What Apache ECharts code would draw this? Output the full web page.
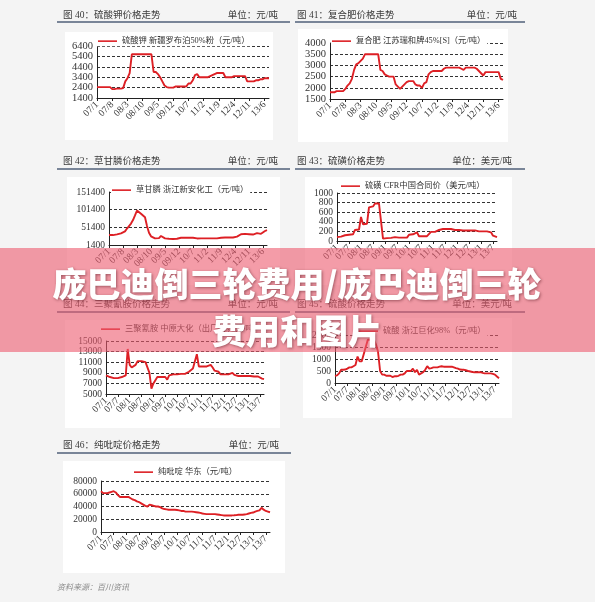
<!DOCTYPE html>
<html><head><meta charset="utf-8">
<script src="https://cdn.jsdelivr.net/npm/echarts@6/dist/echarts.min.js"></script>
<style>html,body{margin:0;padding:0;background:#f4f4f4}#c{width:595px;height:602px}</style>
</head><body><div id="c"></div>
<script>
// ---------- data ----------
const xTicksA = ['07/1','07/8','08/3','08/10','09/5','09/12','10/7','11/2','11/9','12/4','12/11','13/6'];
const xTicksB = ['07/1','07/7','08/1','08/7','09/1','09/7','10/1','10/7','11/1','11/7','12/1','12/7','13/1','13/7'];

const yTicks40 = [1400,2400,3400,4400,5400,6400];
const yTicks41 = [1500,2000,2500,3000,3500,4000];
const yTicks42 = [1400,51400,101400,151400];
const yTicks43 = [0,200,400,600,800,1000];
const yTicks44 = [5000,7000,9000,11000,13000,15000];
const yTicks45 = [0,500,1000,1500,2000];
const yTicks46 = [0,20000,40000,60000,80000];

// 硫酸钾 (monthly, 07/1 .. 13/8)
const potassiumSulfate = [
 2450,2450,2450,2450,2450,2450,2450,2250,2250,2300,2300,2300,
 2350,3000,3300,3800,5600,5600,5600,5600,5600,5600,5600,5600,
 5600,5600,3900,3900,3700,3400,3000,2600,2450,2400,2400,2400,
 2500,2500,2500,2500,2500,2500,2800,2800,3100,3600,3700,3400,
 3400,3400,3400,3400,3500,3600,3700,3800,3800,3800,3800,3400,
 3400,3400,3400,3500,3500,3500,3500,3500,3500,3000,3000,3000,
 3000,3100,3100,3200,3200,3300,3300,3300];
// 复合肥
const compoundFert = [
 1800,1800,1800,1850,1850,1850,1850,1950,2100,2200,2400,2800,
 3050,3100,3200,3300,3500,3500,3500,3500,3500,3500,3500,2800,
 2750,2600,2550,2500,2500,2500,2150,2050,1950,2050,2150,2250,
 2300,2300,2300,2150,2100,2100,2000,2200,2250,2600,2700,2750,
 2750,2750,2750,2750,2850,2900,2900,2900,2900,2900,2900,2900,
 2850,2800,2900,2900,2900,2900,2900,2850,2750,2650,2550,2700,
 2700,2700,2700,2700,2700,2700,2400,2350];
// 草甘膦
const glyphosate = [
 29500,29500,29500,31000,31400,34000,34200,36000,40000,48000,55000,62000,
 72000,85000,99000,95000,90000,87000,80000,55000,36000,26000,22000,20000,
 20000,21000,27000,23000,20000,19500,19000,18300,18300,18300,19000,21000,
 22000,22000,22000,22000,22000,22000,22000,19000,20000,20200,20200,20200,
 20200,20200,20200,20200,20200,20200,20200,21000,22000,22500,22500,22500,
 22500,22500,22500,22500,25000,28000,32000,34000,33000,32000,32000,31500,
 31000,31500,35000,36000,33000,38000,41000,43600];
// 硫磺 (monthly, 07/1 .. 13/9)
const sulfur = [
 80,80,90,120,120,120,130,140,140,230,230,240,
 500,350,350,360,700,700,720,780,780,780,760,50,
 55,60,60,65,80,80,70,70,70,70,70,70,
 130,130,140,150,180,100,100,100,100,100,100,190,
 190,190,210,230,250,250,250,250,250,250,240,230,
 230,230,230,220,220,220,220,220,220,220,210,200,
 200,200,200,200,190,180,110,80,80];
// 三聚氰胺
const melamine = [
 8500,8200,8200,8200,8000,8000,8000,8200,8200,8200,8500,13500,
 10500,10000,10300,10500,11200,11500,11200,11000,11000,10700,9000,6000,
 7000,7000,8200,8200,8200,8200,8200,7700,8500,8700,8700,8700,
 8700,8800,8800,8600,8800,9000,9200,9500,9800,10000,12500,10200,
 10200,10200,10200,10200,10200,10500,10000,9400,9400,9200,8700,8700,
 8700,8700,8700,8900,9000,8600,8500,8400,8400,8400,8400,8400,
 8400,8400,8400,8300,8300,8300,8000,7900,7800];
// 硫酸
const sulfuricAcid = [
 300,320,400,550,550,560,600,650,650,700,750,1100,
 900,900,1200,1500,1800,1800,1780,1800,1600,1300,500,350,
 350,300,300,300,250,280,280,300,350,350,400,500,
 500,500,600,450,550,350,400,450,550,700,600,620,
 650,650,650,680,700,680,680,680,680,680,650,620,
 600,560,550,550,530,500,480,460,450,450,450,450,
 420,400,400,400,400,380,350,270,200];
// 纯吡啶
const pyridine = [
 64000,61000,61000,61000,62000,63000,64000,62000,58000,55000,55000,55000,
 55000,55000,53000,51000,50000,48000,47000,45000,43000,41000,40000,43000,
 42000,41000,40000,40000,39000,37000,36000,35500,35000,35000,35000,35000,
 34500,34000,33000,33000,32000,32000,32000,32000,31500,31000,30500,30000,
 29000,28500,28000,28000,28000,28000,28000,27500,27000,26500,26000,26000,
 26000,26000,26000,26200,26500,27000,27000,27000,27500,28000,29000,30000,
 30500,32000,33000,34000,38000,35000,33000,32000,31000];

function monthLabels(n){const out=[];for(let i=0;i<n;i++){const y=7+Math.floor(i/12),m=i%12+1;out.push(String(y).padStart(2,'0')+'/'+m);}return out;}
const monthsA = monthLabels(potassiumSulfate.length);
const monthsB = monthLabels(sulfur.length);

// ---------- layout ----------
const SERIF = '"Liberation Serif","Noto Sans CJK SC"';
const RED = '#dd1f24';
const charts = [
 {name:'硫酸钾 新疆罗布泊50%粉（元/吨）', data:potassiumSulfate, cats:monthsA, ticks:xTicksA, y:yTicks40,
  grid:{left:97,top:46,width:172,height:52}, legend:{left:97,top:36}, yFont:10.5},
 {name:'复合肥 江苏瑞和牌45%[S]（元/吨）', data:compoundFert, cats:monthsA, ticks:xTicksA, y:yTicks41,
  grid:{left:330,top:43,width:173,height:56}, legend:{left:331,top:36}, yFont:10.5},
 {name:'草甘膦 浙江新安化工（元/吨）', data:glyphosate, cats:monthsA, ticks:xTicksA, y:yTicks42,
  grid:{left:109,top:192,width:158,height:53}, legend:{left:111,top:185}, yFont:9.5},
 {name:'硫磺 CFR中国合同价（美元/吨）', data:sulfur, cats:monthsB, ticks:xTicksB, y:yTicks43,
  grid:{left:337,top:193,width:160,height:48}, legend:{left:340,top:181}, yFont:9.5},
 {name:'三聚氰胺 中原大化（出厂价，元/吨）', data:melamine, cats:monthsB, ticks:xTicksB, y:yTicks44,
  grid:{left:106,top:341,width:158,height:53}, legend:{left:100,top:324}, yFont:9.5},
 {name:'硫酸 浙江巨化98%（元/吨）', data:sulfuricAcid, cats:monthsB, ticks:xTicksB, y:yTicks45,
  grid:{left:335,top:335,width:164,height:48}, legend:{left:358,top:326}, yFont:9.5},
 {name:'纯吡啶 华东（元/吨）', data:pyridine, cats:monthsB, ticks:xTicksB, y:yTicks46,
  grid:{left:101,top:481,width:169,height:51}, legend:{left:133,top:467}, yFont:9.5}
];

const headers = [
 {t:'图 40：硫酸钾价格走势', u:'单位：元/吨', x:63, ux:278, y:15, lx1:57, lx2:290, ly:22},
 {t:'图 41：复合肥价格走势', u:'单位：元/吨', x:297, ux:517, y:15, lx1:295, lx2:525, ly:22},
 {t:'图 42：草甘膦价格走势', u:'单位：元/吨', x:63, ux:278, y:161, lx1:57, lx2:290, ly:169},
 {t:'图 43：硫磺价格走势', u:'单位：美元/吨', x:297, ux:512, y:161, lx1:295, lx2:525, ly:169},
 {t:'图 44：三聚氰胺价格走势', u:'单位：元/吨', x:63, ux:278, y:304, lx1:57, lx2:290, ly:312},
 {t:'图 45：硫酸价格走势', u:'单位：美元/吨', x:297, ux:512, y:304, lx1:295, lx2:525, ly:312},
 {t:'图 46：纯吡啶价格走势', u:'单位：元/吨', x:63, ux:279, y:445, lx1:57, lx2:291, ly:453}
];
const boxes = [
 [65,32,208,108],[298,29,210,113],[67,177,213,108],[305,177,207,108],
 [65,320,215,108],[303,318,209,100],[63,461,222,112]
];

const elements = [];
boxes.forEach(b=>elements.push({type:'rect',z:-10,shape:{x:b[0],y:b[1],width:b[2],height:b[3]},style:{fill:'#ffffff'}}));
headers.forEach(h=>{
 elements.push({type:'text',z:5,style:{text:h.t,x:h.x,y:h.y,fill:'#3a3a3a',font:'9.5px '+SERIF,textAlign:'left',textVerticalAlign:'middle'}});
 elements.push({type:'text',z:5,style:{text:h.u,x:h.ux,y:h.y,fill:'#3a3a3a',font:'9.5px '+SERIF,textAlign:'right',textVerticalAlign:'middle'}});
 elements.push({type:'line',z:5,shape:{x1:h.lx1,y1:h.ly,x2:h.lx2,y2:h.ly},style:{stroke:'#51607a',lineWidth:1.3}});
});
elements.push({type:'text',z:5,style:{text:'资料来源：百川资讯',x:57,y:588,fill:'#8a8a8a',font:'italic 8px '+SERIF,textAlign:'left',textVerticalAlign:'middle'}});
elements.push({type:'rect',z:100,shape:{x:0,y:248,width:595,height:104},style:{fill:'rgba(236,90,110,0.6)'}});
const titleStyle = {fill:'#ffffff',font:'900 34px "Noto Sans CJK SC"',textAlign:'center',textVerticalAlign:'middle',
  textShadowColor:'rgba(60,0,10,0.45)',textShadowBlur:3,textShadowOffsetX:1,textShadowOffsetY:1};
elements.push({type:'text',z:101,style:Object.assign({text:'庞巴迪倒三轮费用/庞巴迪倒三轮',x:297,y:284},titleStyle)});
elements.push({type:'text',z:101,style:Object.assign({text:'费用和图片',x:297,y:331},titleStyle)});

const option = {
 animation:false,
 backgroundColor:'#f4f4f4',
 grid: charts.map(c=>Object.assign({containLabel:false},c.grid)),
 legend: charts.map(c=>({data:[c.name],left:c.legend.left,top:c.legend.top,icon:'rect',itemWidth:19,itemHeight:1.6,
   padding:[1,2,1,1],backgroundColor:'#ffffff',selectedMode:false,
   textStyle:{fontSize:8.3,color:'#333',fontFamily:SERIF}})),
 xAxis: charts.map((c,i)=>({type:'category',gridIndex:i,data:c.cats,boundaryGap:false,
   axisLine:{lineStyle:{color:'#222',width:1}},
   axisTick:{show:true,length:3,interval:(idx,v)=>c.ticks.includes(v),lineStyle:{color:'#222'}},
   axisLabel:{interval:0,formatter:v=>c.ticks.includes(v)?v:'',rotate:45,fontSize:9.5,color:'#333',fontFamily:SERIF,margin:5,
     hideOverlap:false},
   splitLine:{show:false}})),
 yAxis: charts.map((c,i)=>({type:'value',gridIndex:i,min:c.y[0],max:c.y[c.y.length-1],interval:c.y[1]-c.y[0],
   axisLine:{show:true,lineStyle:{color:'#222',width:1}},axisTick:{show:false},
   axisLabel:{fontSize:c.yFont,color:'#333',fontFamily:SERIF,margin:4,formatter:v=>String(v)},
   splitLine:{show:true,lineStyle:{color:'#333',type:[3,2],width:1}}})),
 series: charts.map((c,i)=>({name:c.name,type:'line',xAxisIndex:i,yAxisIndex:i,data:c.data,showSymbol:false,
   itemStyle:{color:RED},lineStyle:{color:RED,width:1.9}})),
 graphic:{elements}
};
const chart = echarts.init(document.getElementById('c'),null,{renderer:'canvas'});
chart.setOption(option);
</script></body></html>
